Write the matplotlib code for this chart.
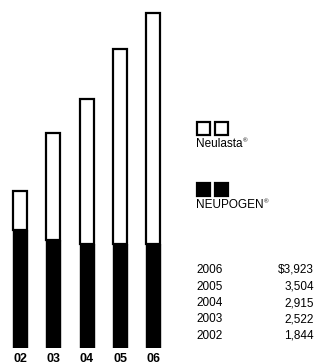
#! /usr/bin/env python3

'''
Neulasta / NEUPOGEN combined sales, 2002-2006, stacked bars with a small
legend and a sales table to the right.
'''

import matplotlib
matplotlib.use('Agg')
import matplotlib.pyplot as plt
from matplotlib.patches import Rectangle


years = ['02', '03', '04', '05', '06']
neupogen = [1380, 1267, 1215, 1216, 1213]
neulasta = [464, 1255, 1700, 2288, 2710]
table_years = ['2006', '2005', '2004', '2003', '2002']
table_values = ['$3,923', '3,504', '2,915', '2,522', '1,844']

W, H = 315, 362
plt.rcParams['font.family'] = ['Liberation Sans', 'DejaVu Sans']


def px(x, y):
    '''pixel position (from top left) to figure fraction'''
    return x / W, 1 - y / H


def main():
    fig = plt.figure(figsize=(W / 100, H / 100), dpi=100)

    # bar panel
    ax = fig.add_axes([0, 14 / H, 170 / W, 348 / H])
    x = range(len(years))
    ax.bar(x, neupogen, width=0.42, color='black', edgecolor='black',
           linewidth=1.0)
    ax.bar(x, neulasta, bottom=neupogen, width=0.42, color='white',
           edgecolor='black', linewidth=1.6)
    ax.set_xlim(-0.6, 4.5)
    ax.set_ylim(0, 4075)
    ax.axis('off')
    for i, label in enumerate(years):
        ax.text(i, -55, label, ha='center', va='top', fontsize=9,
                fontweight='bold', clip_on=False)

    # legend
    for fill, top, label, ty in [('white', 122, 'Neulasta', 144),
                                 ('black', 183, 'NEUPOGEN', 205)]:
        for left in (197, 215):
            x0, y0 = px(left, top + 13)
            fig.add_artist(Rectangle(
                (x0, y0), 13 / W, 13 / H, transform=fig.transFigure,
                facecolor=fill, edgecolor='black', linewidth=1.6))
        t = fig.text(*px(196, ty), label, fontsize=8.5, va='center',
                     ha='left')
        ax.annotate('\u00ae', xy=(1, 0.95), xycoords=t, fontsize=4.5,
                    va='top', ha='left', annotation_clip=False)

    # sales table
    for i, (yr, val) in enumerate(zip(table_years, table_values)):
        yy = 270 + i * 16.5
        fig.text(*px(196, yy), yr, fontsize=8.5, va='center', ha='left')
        fig.text(*px(314, yy), val, fontsize=8.5, va='center', ha='right')

    fig.savefig('out.png', dpi=100)


if __name__ == '__main__':
    main()
